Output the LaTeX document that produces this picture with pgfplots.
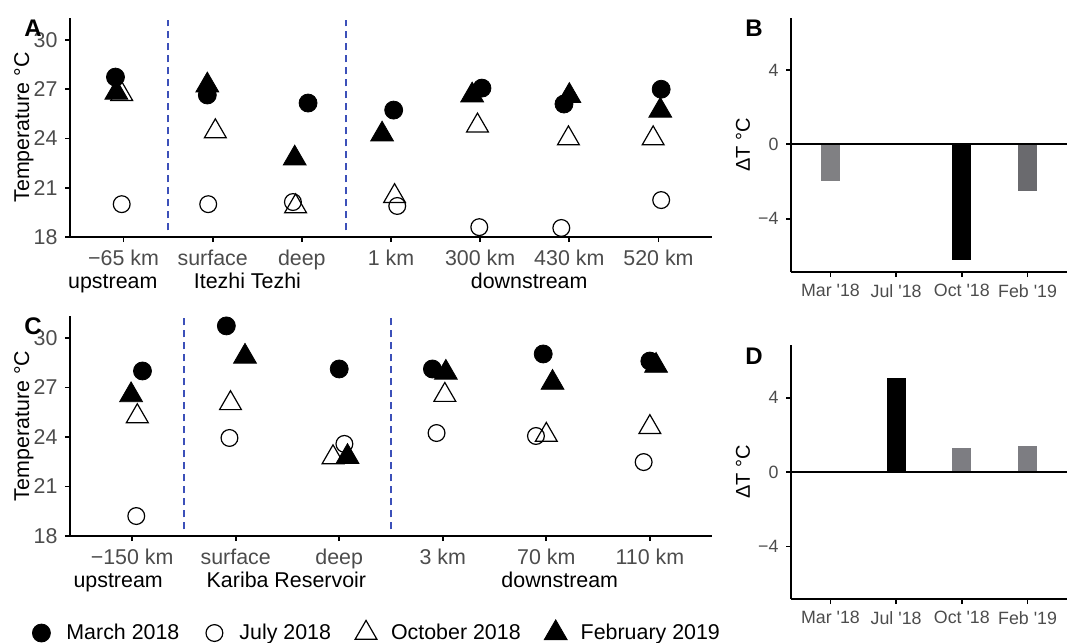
\documentclass[border=0pt]{standalone}
\usepackage{pgfplots}
\pgfplotsset{compat=1.18}
\usepackage{fontspec}
\setmainfont{Liberation Sans}
\definecolor{tickgray}{gray}{0.3}
\definecolor{dblue}{RGB}{60,80,185}
\definecolor{barA}{RGB}{128,128,131}
\definecolor{barB}{RGB}{106,106,110}
\definecolor{barC}{RGB}{125,125,130}
\pgfplotsset{
  panel/.style={scale only axis, axis lines*=left,
    axis line style={line width=0.9pt,-}, tick align=outside,
    major tick length=2.5pt, tick style={black,line width=0.9pt},
    clip=false,
    tick label style={text=tickgray, font=\fontsize{10.7}{12.8}\selectfont},
    label style={font=\fontsize{10.7}{12.8}\selectfont},
    /pgf/number format/assume math mode=true},
  small/.style={tick label style={text=tickgray, font=\fontsize{8.9}{10.7}\selectfont},
    label style={font=\fontsize{10}{12}\selectfont}},
  mar/.style={only marks, mark=*, mark size=4.5pt, black, mark options={fill=black}},
  jul/.style={only marks, mark=o, mark size=4.2pt, black, mark options={line width=0.6pt, fill=none}},
  oct/.style={only marks, mark=triangle, mark size=6.3pt, black, mark options={line width=0.6pt, fill=none}},
  feb/.style={only marks, mark=triangle*, mark size=6.6pt, black, mark options={fill=black}},
  vdash/.style={dblue, line width=1pt, dash pattern=on 3.5pt off 2.5pt, forget plot},
}
\begin{document}
\fontsize{10.7pt}{12.8pt}\selectfont
\begin{tikzpicture}
\path[use as bounding box] (0,0) rectangle (533.5pt,-321.5pt);

% ---------------- Panel A ----------------
\begin{axis}[panel, at={(35pt,-118.5pt)}, anchor=south west,
  width=321pt, height=109.5pt,
  xmin=-0.6, xmax=6.6, ymin=18, ymax=31.34,
  xtick={0,...,6},
  xticklabels={−65 km,surface,deep,1 km,300 km,430 km,520 km},
  ytick={18,21,24,27,30},
  ylabel={Temperature °C},
  ylabel style={at={(axis description cs:-0.0717,0.5)}, anchor=center}]
\addplot[vdash] coordinates {(0.5,18.4) (0.5,31.2)};
\addplot[vdash] coordinates {(2.5,18.4) (2.5,31.2)};
\addplot[mar] coordinates {(-0.09,27.74) (0.94,26.65) (2.07,26.16) (3.03,25.73) (4.02,27.07) (4.94,26.10) (6.03,27.00)};
\addplot[jul] coordinates {(-0.02,20.00) (0.95,20.00) (1.90,20.13) (3.07,19.89) (3.99,18.60) (4.91,18.55) (6.03,20.25)};
\addplot[oct] coordinates {(-0.02,26.70) (1.03,24.43) (1.93,19.86) (3.04,20.48) (3.97,24.78) (4.99,24.00) (5.94,24.00)};
\addplot[feb] coordinates {(-0.08,26.80) (0.94,27.24) (1.92,22.79) (2.90,24.25) (3.91,26.63) (5.00,26.60) (6.02,25.70)};
\node[anchor=base] at (axis cs:-0.12,14.85) {upstream};
\node[anchor=base] at (axis cs:1.39,14.85) {Itezhi Tezhi};
\node[anchor=base] at (axis cs:4.55,14.85) {downstream};
\end{axis}

% ---------------- Panel B ----------------
\begin{axis}[panel, small, at={(395.5pt,-136pt)}, anchor=south west,
  width=138pt, height=127pt,
  xmin=0.4, xmax=4.6, ymin=-6.86, ymax=6.79,
  xtick={1,2,3,4},
  xticklabels={Mar \textquotesingle18,Jul \textquotesingle18,Oct \textquotesingle18,Feb \textquotesingle19},
  ytick={-4,0,4}, yticklabels={−4,0,4},
  ylabel={ΔT °C},
  ylabel style={at={(axis description cs:-0.174,0.5)}, anchor=center}]
\addplot[ybar, bar width=9.5pt, bar shift=0pt, fill=barA, draw=none] coordinates {(1,-1.95)};
\addplot[ybar, bar width=9.5pt, bar shift=0pt, fill=black, draw=none] coordinates {(3,-6.2)};
\addplot[ybar, bar width=9.5pt, bar shift=0pt, fill=barB, draw=none] coordinates {(4,-2.5)};
\addplot[black, line width=0.9pt, forget plot] coordinates {(0.4,0) (4.6,0)};
\end{axis}

% ---------------- Panel C ----------------
\begin{axis}[panel, at={(35pt,-268pt)}, anchor=south west,
  width=321pt, height=110pt,
  xmin=-0.6, xmax=5.6, ymin=18, ymax=31.33,
  xtick={0,...,5},
  xticklabels={−150 km,surface,deep,3 km,70 km,110 km},
  ytick={18,21,24,27,30},
  ylabel={Temperature °C},
  ylabel style={at={(axis description cs:-0.0717,0.5)}, anchor=center},
  legend columns=4,
  legend cell align=left,
  legend style={at={(axis description cs:-0.0763,-0.441)}, anchor=west,
    draw=none, fill=none, inner sep=0pt,
    font=\fontsize{10.7}{12.8}\selectfont,
    /tikz/every even column/.append style={column sep=5.5pt}},
  legend image code/.code={\path[draw=none,fill=none] (-10pt,0) -- (10.5pt,0); \draw[#1] plot coordinates {(0pt,0pt)};}]
\addplot[vdash] coordinates {(0.5,18.4) (0.5,31.2)};
\addplot[vdash] coordinates {(2.5,18.4) (2.5,31.2)};
\addplot[mar] coordinates {(0.10,28.00) (0.91,30.73) (2.00,28.12) (2.90,28.12) (3.97,29.03) (5.00,28.60)};
\addplot[jul] coordinates {(0.04,19.21) (0.94,23.94) (2.05,23.58) (2.94,24.24) (3.90,24.06) (4.94,22.48)};
\addplot[oct] coordinates {(0.05,25.25) (0.95,26.04) (1.94,22.76) (3.02,26.54) (4.00,24.12) (5.00,24.59)};
\addplot[feb] coordinates {(-0.01,26.54) (1.09,28.87) (2.08,22.80) (3.03,27.90) (4.06,27.29) (5.06,28.32)};
\legend{March 2018, July 2018, October 2018, February 2019}
\node[anchor=base] at (axis cs:-0.135,14.9) {upstream};
\node[anchor=base] at (axis cs:1.49,14.9) {Kariba Reservoir};
\node[anchor=base] at (axis cs:4.13,14.9) {downstream};
\end{axis}

% ---------------- Panel D ----------------
\begin{axis}[panel, small, at={(395.5pt,-299.5pt)}, anchor=south west,
  width=138pt, height=127pt,
  xmin=0.4, xmax=4.6, ymin=-6.83, ymax=6.84,
  xtick={1,2,3,4},
  xticklabels={Mar \textquotesingle18,Jul \textquotesingle18,Oct \textquotesingle18,Feb \textquotesingle19},
  ytick={-4,0,4}, yticklabels={−4,0,4},
  ylabel={ΔT °C},
  ylabel style={at={(axis description cs:-0.174,0.5)}, anchor=center}]
\addplot[ybar, bar width=9.5pt, bar shift=0pt, fill=barA, draw=none] coordinates {(1,0.07)};
\addplot[ybar, bar width=9.5pt, bar shift=0pt, fill=black, draw=none] coordinates {(2,5.05)};
\addplot[ybar, bar width=9.5pt, bar shift=0pt, fill=barC, draw=none] coordinates {(3,1.29)};
\addplot[ybar, bar width=9.5pt, bar shift=0pt, fill=barC, draw=none] coordinates {(4,1.38)};
\addplot[black, line width=0.9pt, forget plot] coordinates {(0.4,0) (4.6,0)};
\end{axis}

% panel letters
\node[font=\fontsize{12}{14}\selectfont\bfseries] at (16.5pt,-14pt) {A};
\node[font=\fontsize{12}{14}\selectfont\bfseries] at (377pt,-14pt) {B};
\node[font=\fontsize{12}{14}\selectfont\bfseries] at (16.5pt,-163pt) {C};
\node[font=\fontsize{12}{14}\selectfont\bfseries] at (377pt,-178pt) {D};
\end{tikzpicture}
\end{document}
